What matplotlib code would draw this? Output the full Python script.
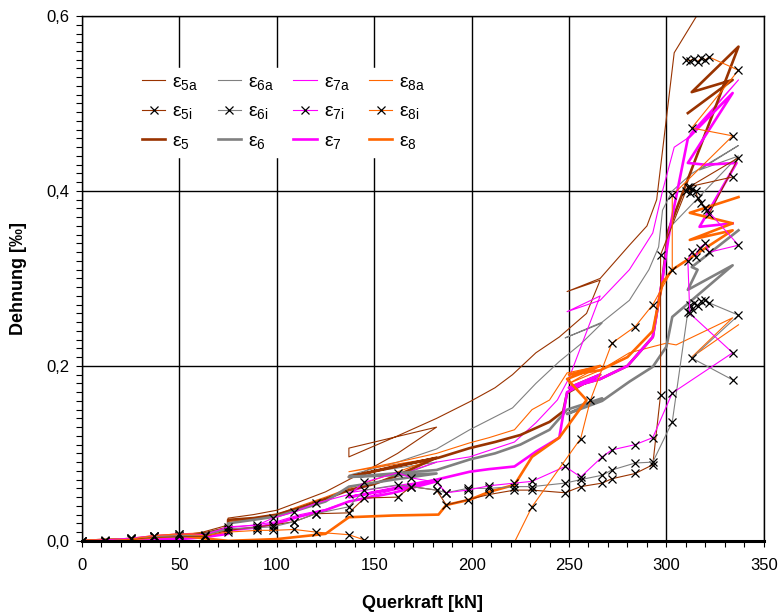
import matplotlib
matplotlib.use('Agg')
import matplotlib.pyplot as plt
from matplotlib.ticker import MultipleLocator, FuncFormatter

plt.rcParams['font.family'] = ['Liberation Sans Narrow', 'Liberation Sans', 'DejaVu Sans']
plt.rcParams['mathtext.fontset'] = 'custom'
plt.rcParams['mathtext.rm'] = 'Liberation Sans'

# Farben der Messstellen
c5, c6, c7, c8 = '#993300', '#808080', '#FF00FF', '#FF6600'

# --- äußere Messstellen (a) ---
e5a_x = [0, 12, 25, 37, 50, 62, 75, 75, 88, 100, 112, 125, 137, 150, 162, 182, 137, 137, 162, 182,
         199, 212, 221, 233, 245, 259, 266, 249, 266, 281, 290, 295, 304, 321]
e5a_y = [0, 0.001, 0.002, 0.004, 0.006, 0.01, 0.018, 0.026, 0.03, 0.035, 0.045, 0.056, 0.07, 0.085, 0.1, 0.13,
         0.106, 0.096, 0.12, 0.14, 0.159, 0.175, 0.19, 0.215, 0.233, 0.26, 0.298, 0.285, 0.30, 0.338, 0.36,
         0.39, 0.558, 0.62]

e6a_x = [0, 12, 25, 37, 50, 62, 75, 75, 88, 100, 112, 125, 137, 160, 182, 137, 162, 182, 199, 221, 233,
         245, 256, 267, 248, 267, 281, 291, 296, 298, 303, 313, 337, 317, 337, 302]
e6a_y = [0, 0.001, 0.002, 0.003, 0.005, 0.008, 0.015, 0.022, 0.025, 0.03, 0.038, 0.048, 0.058, 0.072, 0.09,
         0.075, 0.09, 0.105, 0.127, 0.152, 0.18, 0.205, 0.225, 0.249, 0.232, 0.25, 0.275, 0.31, 0.336, 0.378,
         0.40, 0.42, 0.452, 0.424, 0.44, 0.359]

e7a_x = [0, 12, 25, 37, 50, 62, 75, 75, 88, 100, 112, 125, 137, 160, 182, 137, 162, 182, 199, 222, 233,
         244, 250, 266, 249, 266, 281, 293, 298, 304, 312, 337, 312, 333]
e7a_y = [0, 0.0, 0.001, 0.002, 0.003, 0.005, 0.01, 0.015, 0.018, 0.022, 0.03, 0.036, 0.045, 0.058, 0.07,
         0.055, 0.075, 0.09, 0.096, 0.113, 0.135, 0.161, 0.186, 0.28, 0.262, 0.275, 0.31, 0.352, 0.40, 0.45,
         0.462, 0.527, 0.465, 0.51]

e8a_x = [0, 12, 25, 37, 50, 62, 75, 75, 88, 100, 112, 125, 137, 161, 182, 137, 162, 182, 199, 209, 222,
         231, 240, 249, 266, 250, 266, 281, 293, 300, 305, 334, 313, 337]
e8a_y = [0, 0.001, 0.003, 0.006, 0.008, 0.009, 0.012, 0.022, 0.025, 0.03, 0.04, 0.05, 0.06, 0.078, 0.095,
         0.079, 0.09, 0.1, 0.112, 0.118, 0.127, 0.15, 0.161, 0.192, 0.2, 0.18, 0.195, 0.215, 0.222, 0.226,
         0.224, 0.255, 0.21, 0.247]

# --- innere Messstellen (i) ---
i_x = [0, 12, 25, 37, 50, 63, 75, 90, 98, 109, 120, 137, 145, 162, 169, 182, 187, 198, 209, 222, 231,
       248, 256, 267, 272, 284, 293]
e5i_y = [0, 0.0, 0.002, 0.004, 0.005, 0.005, 0.012, 0.016, 0.018, 0.022, 0.031, 0.032, 0.049, 0.05, 0.062,
         0.058, 0.041, 0.047, 0.053, 0.058, 0.058, 0.055, 0.062, 0.066, 0.071, 0.077, 0.087]
e6i_y = [0, 0.0, 0.003, 0.005, 0.006, 0.006, 0.014, 0.015, 0.016, 0.022, 0.031, 0.039, 0.058, 0.064, 0.062,
         0.058, 0.055, 0.06, 0.06, 0.062, 0.062, 0.066, 0.07, 0.075, 0.081, 0.089, 0.09]
e7i_y = [0, 0.001, 0.003, 0.006, 0.008, 0.007, 0.016, 0.018, 0.026, 0.033, 0.043, 0.053, 0.067, 0.078,
         0.072, 0.067, 0.055, 0.058, 0.063, 0.066, 0.068, 0.085, 0.073, 0.096, 0.104, 0.11, 0.118]
# ε8i liegt zwischen 150 und 221 kN knapp unter null (durch die Achse verdeckt)
e8i_x = [0, 12, 25, 37, 50, 63, 75, 90, 98, 109, 120, 137, 145, 150, 221, 231, 256, 261, 272, 284, 293]
e8i_y = [0, 0.0, 0.002, 0.006, 0.008, 0.006, 0.01, 0.012, 0.012, 0.013, 0.01, 0.007, 0.001, -0.006, -0.006,
         0.039, 0.117, 0.161, 0.226, 0.245, 0.27]

# Endbereich der inneren Messstellen (Laststufen über 295 kN)
e5i_end_x = [297, 297, 310, 311, 312, 313, 315, 316, 318, 320, 322, 337, 312, 334]
e5i_end_y = [0.167, 0.327, 0.40, 0.405, 0.398, 0.402, 0.40, 0.392, 0.386, 0.38, 0.374, 0.438, 0.405, 0.416]
e6i_end_x = [303, 311, 312, 313, 314, 316, 318, 320, 322, 337, 313, 334]
e6i_end_y = [0.136, 0.262, 0.27, 0.265, 0.272, 0.268, 0.274, 0.275, 0.272, 0.258, 0.209, 0.184]
e7i_end_x = [303, 334, 312, 311, 313, 315, 317, 320, 322, 337, 321]
e7i_end_y = [0.169, 0.215, 0.26, 0.32, 0.33, 0.325, 0.335, 0.34, 0.33, 0.338, 0.378]
e8i_end_x = [303, 303, 334, 313, 337, 322, 320, 318, 316, 314, 312, 310]
e8i_end_y = [0.31, 0.395, 0.463, 0.472, 0.538, 0.553, 0.55, 0.552, 0.548, 0.551, 0.549, 0.55]

# --- Mittelwerte (dicke Linien) ---
e5_x = [0, 12, 25, 37, 50, 62, 75, 75, 88, 100, 112, 125, 137, 150, 162, 182, 137, 160, 183, 199, 212,
        225, 240, 247, 249, 266, 250, 266, 280, 293, 298, 301, 337, 313, 334, 311]
e5_y = [0, 0.001, 0.002, 0.003, 0.004, 0.008, 0.015, 0.024, 0.026, 0.03, 0.038, 0.048, 0.058, 0.065, 0.075,
        0.095, 0.073, 0.085, 0.095, 0.106, 0.113, 0.121, 0.136, 0.148, 0.169, 0.19, 0.175, 0.185, 0.2, 0.233,
        0.30, 0.355, 0.565, 0.513, 0.527, 0.489]

e6_x = [0, 12, 25, 37, 50, 62, 75, 75, 88, 100, 112, 125, 137, 160, 182, 137, 160, 182, 199, 212, 225,
        240, 249, 267, 249, 267, 281, 293, 300, 303, 334, 311, 316, 313, 337]
e6_y = [0, 0.001, 0.002, 0.003, 0.004, 0.007, 0.014, 0.02, 0.024, 0.028, 0.036, 0.045, 0.062, 0.07, 0.077,
        0.073, 0.077, 0.081, 0.093, 0.1, 0.11, 0.127, 0.15, 0.163, 0.145, 0.16, 0.182, 0.199, 0.222, 0.256,
        0.315, 0.287, 0.31, 0.313, 0.355]

e7_x = [0, 12, 25, 37, 50, 62, 75, 75, 88, 100, 112, 125, 137, 160, 182, 137, 160, 182, 199, 209, 222,
        233, 245, 249, 266, 250, 266, 280, 293, 298, 302, 311, 334, 311, 320, 336, 317, 334]
e7_y = [0, 0.0, 0.001, 0.002, 0.002, 0.004, 0.008, 0.012, 0.015, 0.02, 0.028, 0.035, 0.045, 0.055, 0.068,
        0.05, 0.06, 0.07, 0.079, 0.082, 0.085, 0.102, 0.118, 0.17, 0.19, 0.175, 0.185, 0.2, 0.233, 0.30,
        0.36, 0.46, 0.512, 0.432, 0.43, 0.432, 0.359, 0.363]

e8_x = [0, 12, 25, 37, 50, 62, 75, 100, 125, 137, 160, 183, 187, 199, 209, 222, 231, 245, 259, 249, 266,
        250, 266, 280, 293, 298, 303, 334, 312, 334, 312, 337]
e8_y = [0, 0.001, 0.002, 0.004, 0.006, 0.003, 0.0, 0.002, 0.008, 0.027, 0.029, 0.03, 0.041, 0.047, 0.056,
        0.064, 0.096, 0.118, 0.161, 0.185, 0.2, 0.19, 0.195, 0.21, 0.24, 0.295, 0.31, 0.355, 0.344, 0.363,
        0.375, 0.393]

fig = plt.figure(figsize=(7.81, 6.16), dpi=100)
ax = fig.add_axes([0.105, 0.122, 0.873, 0.852])

lw_thin, lw_thick = 0.8, 1.9
mk = dict(marker='x', markersize=6, markeredgecolor='black', markeredgewidth=0.9)

h5a, = ax.plot(e5a_x, e5a_y, color=c5, lw=lw_thin)
h6a, = ax.plot(e6a_x, e6a_y, color=c6, lw=lw_thin)
h7a, = ax.plot(e7a_x, e7a_y, color=c7, lw=lw_thin)
h8a, = ax.plot(e8a_x, e8a_y, color=c8, lw=lw_thin)

h5, = ax.plot(e5_x, e5_y, color=c5, lw=lw_thick)
h6, = ax.plot(e6_x, e6_y, color=c6, lw=lw_thick)
h7, = ax.plot(e7_x, e7_y, color=c7, lw=lw_thick)
h8, = ax.plot(e8_x, e8_y, color=c8, lw=lw_thick)

h5i, = ax.plot(i_x + e5i_end_x, e5i_y + e5i_end_y, color=c5, lw=lw_thin, **mk)
h6i, = ax.plot(i_x + e6i_end_x, e6i_y + e6i_end_y, color=c6, lw=lw_thin, **mk)
h7i, = ax.plot(i_x + e7i_end_x, e7i_y + e7i_end_y, color=c7, lw=lw_thin, **mk)
h8i, = ax.plot(e8i_x + e8i_end_x, e8i_y + e8i_end_y, color=c8, lw=lw_thin, **mk)

ax.set_xlim(0, 350)
ax.set_ylim(0, 0.6)
ax.xaxis.set_major_locator(MultipleLocator(50))
ax.xaxis.set_minor_locator(MultipleLocator(10))
ax.yaxis.set_major_locator(MultipleLocator(0.2))
ax.yaxis.set_minor_locator(MultipleLocator(0.01))
ax.yaxis.set_major_formatter(FuncFormatter(lambda v, p: f'{v:.1f}'.replace('.', ',')))
ax.tick_params(which='both', direction='out', length=4, width=0.8, colors='black',
               labelsize=12, pad=5)
ax.tick_params(axis='x', pad=8)
ax.grid(True, which='major', color='black', lw=1.0)
ax.set_axisbelow(True)
for s in ax.spines.values():
    s.set_color('black')
    s.set_linewidth(1.0)
ax.spines['bottom'].set_linewidth(2.2)

ax.set_xlabel('Querkraft [kN]', fontsize=13, fontweight='bold', labelpad=16)
ax.set_ylabel('Dehnung [‰]', fontsize=13, fontweight='bold', labelpad=14)

def lab(s):
    return r'$\mathregular{ε_{' + s + '}}$'

handles = [h5a, h5i, h5, h6a, h6i, h6, h7a, h7i, h7, h8a, h8i, h8]
labels = [lab('5a'), lab('5i'), lab('5'), lab('6a'), lab('6i'), lab('6'),
          lab('7a'), lab('7i'), lab('7'), lab('8a'), lab('8i'), lab('8')]
leg = ax.legend(handles, labels, ncol=4, loc='upper left', bbox_to_anchor=(0.065, 0.92),
                fontsize=14, frameon=True, framealpha=1, edgecolor='white', fancybox=False,
                handlelength=1.2, handletextpad=0.35, columnspacing=1.0, labelspacing=0.55,
                borderpad=0.3)
leg.set_zorder(5)

fig.savefig('out.png', dpi=100)
